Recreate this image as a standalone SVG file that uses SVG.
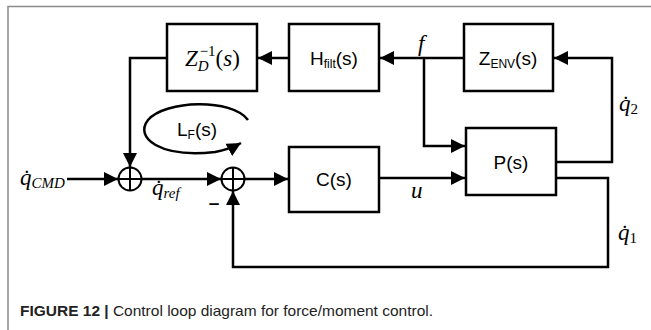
<svg xmlns="http://www.w3.org/2000/svg" width="651" height="330" viewBox="0 0 651 330">
<style>
.box{fill:#fff;stroke:#000;stroke-width:2.5}
.w{fill:none;stroke:#000;stroke-width:2.5}
.sum{fill:#fff;stroke:#000;stroke-width:2}
.lbl{font-family:"Liberation Sans",Arial,sans-serif;font-size:19px;fill:#000}
.sub{font-size:12px}
.m{font-family:"Liberation Serif","Times New Roman",serif;font-style:italic;font-size:23px;fill:#000}
.msub{font-size:15px}
.cap{font-family:"Liberation Sans",Arial,sans-serif;font-size:15px;fill:#222}
</style>
<defs>
<marker id="ah" markerUnits="userSpaceOnUse" markerWidth="15" markerHeight="14" refX="14" refY="7" orient="auto">
<path d="M0,0 L14,7 L0,14 z" fill="#000"/>
</marker>
</defs>
<rect width="651" height="330" fill="#fff"/>
<path d="M8,330 V6.5 H651" fill="none" stroke="#8a8a8a" stroke-width="1.5"/>

<g id="connectors">
<path class="w" d="M464,58 H380" marker-end="url(#ah)"/>
<path class="w" d="M289,58 H258" marker-end="url(#ah)"/>
<path class="w" d="M167,58 H130 V167" marker-end="url(#ah)"/>
<path class="w" d="M67,179 H118" marker-end="url(#ah)"/>
<path class="w" d="M142,179 H221" marker-end="url(#ah)"/>
<path class="w" d="M245,179 H288" marker-end="url(#ah)"/>
<path class="w" d="M379,178 H465" marker-end="url(#ah)"/>
<path class="w" d="M424,58 V146 H465" marker-end="url(#ah)"/>
<path class="w" d="M556,162 H612 V58 H554" marker-end="url(#ah)"/>
<path class="w" d="M556,178 H608 V267 H233 V191" marker-end="url(#ah)"/>
<path class="w" d="M248,120 C232,98 165,100 148,120 C134,138 160,158 215,152 C226,150 232,148 241,143" stroke-width="2" marker-end="url(#ah)"/>
</g>

<g id="ZD">
<rect class="box" x="167" y="24" width="90" height="67"/>
<text class="m" x="185" y="66">Z<tspan class="msub" dy="5">D</tspan><tspan class="msub" font-style="normal" dx="-9" dy="-15">−1</tspan><tspan dy="10" font-style="normal">(</tspan><tspan>s</tspan><tspan font-style="normal">)</tspan></text>
</g>
<g id="Hfilt">
<rect class="box" x="289" y="24" width="90" height="67"/>
<text class="lbl" x="334" y="65" text-anchor="middle">H<tspan class="sub" dy="3">filt</tspan><tspan dy="-3">(s)</tspan></text>
</g>
<g id="ZENV">
<rect class="box" x="464" y="24" width="89" height="67"/>
<text class="lbl" x="508" y="65" text-anchor="middle">Z<tspan class="sub" dy="3">ENV</tspan><tspan dy="-3">(s)</tspan></text>
</g>
<g id="C">
<rect class="box" x="289" y="147" width="90" height="65"/>
<text class="lbl" x="334" y="186" text-anchor="middle">C(s)</text>
</g>
<g id="P">
<rect class="box" x="466" y="128" width="90" height="67"/>
<text class="lbl" x="511" y="169" text-anchor="middle">P(s)</text>
</g>
<g id="sum1">
<circle class="sum" cx="130" cy="179" r="11.5"/>
<path d="M118.5,179 H141.5 M130,167.5 V190.5" stroke="#000" stroke-width="2"/>
</g>
<g id="sum2">
<circle class="sum" cx="233" cy="179" r="11.5"/>
<path d="M221.5,179 H244.5 M233,167.5 V190.5" stroke="#000" stroke-width="2"/>
</g>

<g id="labels">
<text class="lbl" x="197" y="136" text-anchor="middle">L<tspan class="sub" dy="3">F</tspan><tspan dy="-3">(s)</tspan></text>
<text class="m" x="418" y="51">f</text>
<text class="m" x="20" y="185">q̇<tspan class="msub" dy="3">CMD</tspan></text>
<text class="m" x="152" y="195">q̇<tspan class="msub" dy="3">ref</tspan></text>
<text class="m" x="619" y="111">q̇<tspan class="msub" font-style="normal" dy="3">2</tspan></text>
<text class="m" x="618" y="240">q̇<tspan class="msub" font-style="normal" dy="3">1</tspan></text>
<text class="m" x="411" y="198">u</text>
<text class="lbl" x="214" y="209" text-anchor="middle" font-weight="bold">–</text>
</g>

<text class="cap" x="20" y="316" textLength="413" lengthAdjust="spacingAndGlyphs"><tspan font-weight="bold">FIGURE 12 |</tspan> Control loop diagram for force/moment control.</text>
</svg>
